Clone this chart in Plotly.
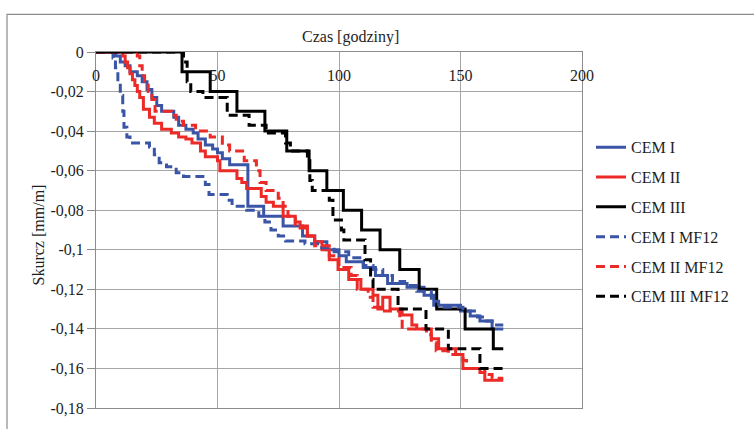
import plotly.graph_objects as go

# ---- data (hours, mm/m) ----
cem1_t = [0, 8, 10, 12, 14, 17, 19, 21, 23, 25, 27, 32, 34, 37, 40, 42, 45, 48, 50, 52, 55, 62.5, 69, 77, 85, 90, 95, 100, 103, 110, 115, 120, 128, 135, 139, 150, 154, 158, 163, 167.6]
cem1_v = [0, -0.002, -0.005, -0.007, -0.01, -0.012, -0.015, -0.019, -0.023, -0.027, -0.03, -0.033, -0.037, -0.039, -0.041, -0.044, -0.047, -0.049, -0.051, -0.054, -0.057, -0.078, -0.083, -0.088, -0.093, -0.096, -0.1, -0.103, -0.106, -0.109, -0.113, -0.117, -0.119, -0.123, -0.128, -0.131, -0.1335, -0.136, -0.14, -0.14]

cem2_t = [0, 11, 12, 13, 14, 15, 16, 17, 18, 19.5, 22, 24, 27, 31, 34, 37, 39.5, 43, 45, 50, 51, 58, 60, 62, 68, 70, 73, 77, 82, 84, 87, 90, 93, 96, 99.6, 104, 109, 114, 116, 118, 121, 126, 130, 132, 138, 141, 148, 151, 158, 160, 167.6]
cem2_v = [0, -0.002, -0.005, -0.008, -0.011, -0.014, -0.017, -0.02, -0.023, -0.029, -0.033, -0.036, -0.039, -0.041, -0.043, -0.044, -0.046, -0.05, -0.053, -0.055, -0.06, -0.064, -0.066, -0.069, -0.073, -0.076, -0.078, -0.083, -0.086, -0.089, -0.093, -0.096, -0.1, -0.105, -0.11, -0.115, -0.12, -0.123, -0.13, -0.124, -0.13, -0.133, -0.138, -0.14, -0.145, -0.15, -0.153, -0.16, -0.162, -0.166, -0.166]

cem3_t = [0, 35.4, 47, 58, 69.5, 78.5, 87.7, 95, 101.8, 109.3, 116.9, 125, 133, 140.2, 151.9, 163.5, 167.6]
cem3_v = [0, -0.01, -0.02, -0.03, -0.04, -0.05, -0.06, -0.07, -0.08, -0.09, -0.1, -0.11, -0.12, -0.13, -0.14, -0.15, -0.15]

cem1mf_t = [0, 7, 8, 9, 10, 11, 11.5, 12.7, 14, 22, 24, 26, 29, 33, 36, 45, 46.5, 54, 56, 62, 67, 69.5, 72, 75, 78, 86, 92, 98, 104, 110, 114, 118, 122, 127, 132, 138, 141, 151, 157, 160, 163, 167.6]
cem1mf_v = [0, -0.003, -0.008, -0.015, -0.022, -0.03, -0.038, -0.043, -0.046, -0.048, -0.052, -0.056, -0.058, -0.061, -0.063, -0.067, -0.072, -0.075, -0.078, -0.08, -0.083, -0.086, -0.09, -0.093, -0.0955, -0.097, -0.099, -0.101, -0.104, -0.108, -0.11, -0.113, -0.116, -0.118, -0.121, -0.126, -0.129, -0.131, -0.134, -0.136, -0.138, -0.138]

cem2mf_t = [0, 17, 18, 19, 20, 21.5, 23, 24.3, 31, 33, 36, 41, 47, 52, 55, 61, 66, 67.5, 70, 75, 77, 79, 82, 87, 90, 96, 100, 105, 107.5, 112, 114, 118, 125, 126, 136, 138, 140, 145, 151, 152.5, 160, 163, 167.6]
cem2mf_v = [0, -0.002, -0.007, -0.012, -0.016, -0.02, -0.024, -0.03, -0.032, -0.035, -0.037, -0.04, -0.043, -0.047, -0.05, -0.055, -0.06, -0.066, -0.07, -0.074, -0.078, -0.083, -0.088, -0.093, -0.098, -0.103, -0.109, -0.113, -0.12, -0.124, -0.129, -0.131, -0.135, -0.14, -0.143, -0.147, -0.151, -0.153, -0.156, -0.16, -0.163, -0.165, -0.165]

cem3mf_t = [0, 36, 37.5, 39, 44, 54, 63, 70, 78, 80, 87, 88, 89, 96, 97.5, 101, 102, 110.7, 113, 114, 124.3, 135.8, 145, 158, 167.6]
cem3mf_v = [0, -0.005, -0.015, -0.02, -0.023, -0.032, -0.037, -0.041, -0.046, -0.05, -0.055, -0.065, -0.07, -0.075, -0.085, -0.09, -0.095, -0.105, -0.115, -0.12, -0.13, -0.14, -0.15, -0.16, -0.16]

y_ticks = [0, -0.02, -0.04, -0.06, -0.08, -0.1, -0.12, -0.14, -0.16, -0.18]
y_labels = ["0", "-0,02", "-0,04", "-0,06", "-0,08", "-0,1", "-0,12", "-0,14", "-0,16", "-0,18"]
x_ticks = [0, 50, 100, 150, 200]
x_title = "Czas [godziny]"
y_title = "Skurcz [mm/m]"

BLUE = "#3b55a6"
RED = "#ec2a27"
BLACK = "#000000"
FONT = "Liberation Serif"
TXT = "#1e1e1e"

series = [
    ("CEM I", cem1_t, cem1_v, BLUE, "solid"),
    ("CEM II", cem2_t, cem2_v, RED, "solid"),
    ("CEM III", cem3_t, cem3_v, BLACK, "solid"),
    ("CEM I MF12", cem1mf_t, cem1mf_v, BLUE, "9px,5px"),
    ("CEM II MF12", cem2mf_t, cem2mf_v, RED, "9px,5px"),
    ("CEM III MF12", cem3mf_t, cem3mf_v, BLACK, "9px,5px"),
]

fig = go.Figure()
for i, (name, t, v, col, dash) in enumerate(series):
    fig.add_trace(go.Scatter(x=t, y=v, name=name, mode="lines", legendgroup=f"g{i}",
                             line=dict(color=col, width=3, dash=dash, shape="hv")))

# plot area: x 96..582 px, y 52..411 px
L, R, T, B = 96, 172, 52, 18
W, H = 754, 429
pw, ph = W - L - R, H - T - B

def px2x(px):
    return (px - L) / pw

def py2y(py):
    return (H - B - py) / ph

fig.update_layout(
    width=W, height=H,
    margin=dict(l=L, r=R, t=T, b=B),
    paper_bgcolor="white", plot_bgcolor="white",
    font=dict(family=FONT, size=16, color=TXT),
    showlegend=True,
    legend=dict(x=px2x(591), y=py2y(131), xanchor="left", yanchor="top",
                font=dict(family=FONT, size=16, color=TXT),
                bgcolor="rgba(0,0,0,0)", tracegroupgap=6),
    shapes=[dict(type="rect", xref="paper", yref="paper",
                 x0=px2x(7), x1=px2x(790), y0=py2y(470), y1=py2y(14),
                 line=dict(color="#8c8c8c", width=1.2), fillcolor="rgba(0,0,0,0)",
                 layer="below")],
    annotations=[
        dict(text=x_title, xref="paper", yref="paper", x=px2x(350), y=py2y(37),
             showarrow=False, xanchor="center", yanchor="middle",
             font=dict(family=FONT, size=16, color=TXT)),
        dict(text=y_title, xref="paper", yref="paper", x=px2x(38), y=py2y(237),
             showarrow=False, xanchor="center", yanchor="middle", textangle=-90,
             font=dict(family=FONT, size=16, color=TXT)),
    ],
)

fig.update_xaxes(
    range=[0, 200], tickvals=x_ticks, side="top",
    ticks="", ticklabelstandoff=-36,
    showgrid=True, gridcolor="#a6a6a6", gridwidth=1,
    showline=True, linecolor="#8c8c8c", linewidth=1, mirror=True,
    zeroline=False,
    tickfont=dict(family=FONT, size=16, color=TXT),
)
fig.update_yaxes(
    range=[-0.18, 0], tickvals=y_ticks, ticktext=y_labels,
    ticks="outside", ticklen=8, tickcolor="#8c8c8c",
    showgrid=True, gridcolor="#a6a6a6", gridwidth=1,
    showline=True, linecolor="#8c8c8c", linewidth=1, mirror=True,
    zeroline=False,
    tickfont=dict(family=FONT, size=16, color=TXT),
)

fig.write_html("out.html")
